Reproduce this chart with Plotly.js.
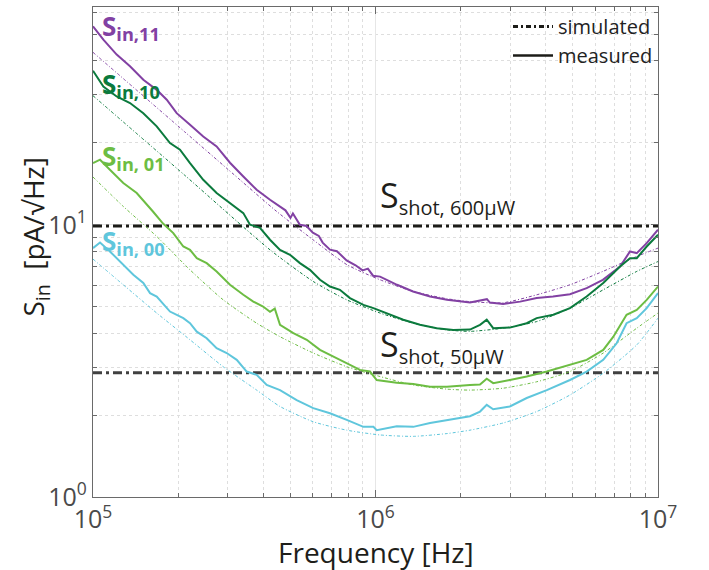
<!DOCTYPE html>
<html>
<head>
<meta charset="utf-8">
<script src="https://cdn.plot.ly/plotly-3.0.1.min.js"></script>
<style>html,body{margin:0;padding:0;background:#fff;}#chart{width:709px;height:570px;}</style>
</head>
<body>
<div id="chart"></div>
<script>
// ---- data ----
// measured S_in,11 (purple)
const f11m = [1.0e5,1.088e5,1.213e5,1.352e5,1.507e5,1.681e5,1.824e5,1.978e5,2.205e5,2.456e5,2.739e5,3.054e5,3.405e5,3.796e5,4.232e5,4.592e5,4.8e5,5.0e5,5.1e5,5.4e5,5.7e5,6.0e5,6.3e5,6.5e5,6.9e5,7.3e5,7.9e5,8.5e5,9.0e5,9.4e5,9.8e5,1.038e6,1.192e6,1.358e6,1.56e6,1.79e6,2.16e6,2.48e6,2.54e6,2.83e6,3.25e6,3.72e6,4.25e6,4.88e6,5.59e6,6.38e6,7.34e6,7.96e6,8.41e6,9.12e6,1e7];
const s11m = [53.6,47.9,42.2,38.2,34.1,31.3,28.8,25.7,23.3,21.1,19.4,16.9,15.05,13.45,12.36,11.68,11.3,10.6,11.0,10.0,9.9,9.35,9.1,8.6,8.1,8.0,7.4,7.1,6.8,6.9,6.5,6.45,6.02,5.69,5.45,5.30,5.18,5.33,5.18,5.12,5.22,5.38,5.45,5.56,5.85,6.28,7.03,7.98,7.87,8.56,9.59];
// measured S_in,10 (dark green)
const f10m = [1.0e5,1.088e5,1.213e5,1.352e5,1.507e5,1.681e5,1.873e5,2.032e5,2.205e5,2.456e5,2.739e5,3.054e5,3.405e5,3.596e5,3.90e5,4.232e5,4.592e5,4.98e5,5.40e5,5.86e5,6.36e5,6.90e5,7.48e5,8.12e5,9.06e5,9.83e5,1.095e6,1.254e6,1.437e6,1.647e6,1.886e6,2.16e6,2.344e6,2.476e6,2.61e6,2.99e6,3.43e6,3.72e6,4.26e6,4.88e6,5.59e6,6.40e6,7.34e6,7.96e6,8.41e6,9.12e6,1e7];
const s10m = [36.8,32.2,29.6,28.0,25.7,23.0,19.97,18.87,16.86,14.63,13.08,12.02,11.04,10.0,9.75,8.81,8.09,7.76,7.23,6.83,6.28,5.93,5.77,5.38,5.08,4.94,4.74,4.48,4.29,4.17,4.11,4.12,4.29,4.48,4.17,4.19,4.35,4.54,4.67,4.94,5.45,6.11,7.03,7.54,7.54,8.32,9.19];
// measured S_in,01 (light green)
const f01m = [1.0e5,1.059e5,1.148e5,1.28e5,1.428e5,1.55e5,1.63e5,1.77e5,1.924e5,2.088e5,2.205e5,2.33e5,2.526e5,2.739e5,3.054e5,3.405e5,3.693e5,4.0e5,4.232e5,4.40e5,4.592e5,5.12e5,5.71e5,6.36e5,7.09e5,7.91e5,8.81e5,9.56e5,1.01e6,1.189e6,1.36e6,1.56e6,1.79e6,2.16e6,2.344e6,2.476e6,2.61e6,2.99e6,3.43e6,4.04e6,4.88e6,5.59e6,6.40e6,6.95e6,7.74e6,8.41e6,9.12e6,1e7];
const s01m = [16.86,17.34,15.93,14.23,13.08,11.9,11.19,10.1,9.32,8.32,8.09,7.54,7.23,6.74,6.02,5.53,5.22,5.01,4.79,4.92,4.29,4.0,3.78,3.47,3.28,3.10,2.93,2.89,2.69,2.63,2.60,2.54,2.54,2.58,2.59,2.72,2.62,2.69,2.77,2.89,3.06,3.19,3.47,3.88,4.67,4.87,5.30,5.93];
// measured S_in,00 (cyan)
const f00m = [1.0e5,1.059e5,1.148e5,1.28e5,1.389e5,1.507e5,1.592e5,1.681e5,1.873e5,2.088e5,2.205e5,2.33e5,2.526e5,2.739e5,2.974e5,3.227e5,3.50e5,3.796e5,4.12e5,4.592e5,5.26e5,6.02e5,6.90e5,7.91e5,9.06e5,9.83e5,1.01e6,1.189e6,1.36e6,1.56e6,1.79e6,2.16e6,2.344e6,2.476e6,2.61e6,2.99e6,3.43e6,4.04e6,4.88e6,5.59e6,6.40e6,7.14e6,7.74e6,8.41e6,9.12e6,1e7];
const s00m = [8.21,8.61,7.98,7.13,6.55,6.11,5.61,5.45,4.80,4.54,4.35,4.05,3.83,3.52,3.38,3.19,2.89,2.81,2.58,2.47,2.27,2.12,2.03,1.92,1.81,1.81,1.76,1.82,1.81,1.87,1.92,1.98,2.06,2.18,2.10,2.15,2.31,2.47,2.69,2.89,3.19,3.67,4.35,4.54,4.94,5.61];

// simulated curves
const f11s = [1e5,2.117e5,3.0e5,4.47e5,6.01e5,7.93e5,1.038e6,1.358e6,1.79e6,2.16e6,2.83e6,3.72e6,4.88e6,6.38e6,8.41e6,1e7];
const s11s = [43.0,21.9,16.0,11.19,8.81,7.13,6.28,5.69,5.35,5.22,5.17,5.53,6.02,6.74,7.65,8.21];
const f10s = [1e5,2.117e5,4.232e5,6.02e5,7.91e5,1.038e6,1.36e6,1.79e6,2.16e6,2.83e6,3.72e6,4.88e6,6.40e6,8.41e6,1e7];
const s10s = [29.8,15.17,8.09,6.19,5.30,4.74,4.35,4.11,4.06,4.17,4.41,4.94,5.77,6.74,7.33];
const f01s = [1e5,1.28e5,1.681e5,2.205e5,2.89e5,3.796e5,4.592e5,6.02e5,7.91e5,1.038e6,1.36e6,1.79e6,2.16e6,2.83e6,3.72e6,4.88e6,6.40e6,8.41e6,1e7];
const s01s = [14.98,11.68,9.06,6.83,5.30,4.35,3.88,3.38,3.01,2.77,2.58,2.49,2.47,2.51,2.65,2.89,3.38,4.17,4.74];
const f00s = [1e5,1.28e5,1.681e5,2.205e5,2.89e5,3.796e5,4.592e5,6.02e5,7.91e5,1.038e6,1.36e6,1.79e6,2.16e6,2.83e6,3.72e6,4.88e6,6.40e6,8.41e6,1e7];
const s00s = [7.48,6.02,4.74,3.78,3.01,2.47,2.15,1.89,1.76,1.69,1.67,1.71,1.76,1.87,2.06,2.37,2.85,3.62,4.54];

// shot noise levels
const shotF = [1e5, 1e7];
const shot600 = [9.9, 9.9];
const shot50 = [2.86, 2.86];

// tick labels
const xTickVals = [1e5, 1e6, 1e7];
const xTickText = ['10<sup>5</sup>', '10<sup>6</sup>', '10<sup>7</sup>'];
const yTickVals = [1, 10];
const yTickText = ['10<sup>0</sup>', '10<sup>1</sup>'];
const xMinor = [2e5,3e5,4e5,5e5,6e5,7e5,8e5,9e5,2e6,3e6,4e6,5e6,6e6,7e6,8e6,9e6];
const yMinor = [2,3,4,5,6,7,8,9,20,30,40,50,60];

// legend-only entries (placed outside the visible range, draw nothing)
const legendDummyX = [1e3];
const legendDummyY = [1e-3];

// ---- styles ----
const C11 = '#8241a3', C10 = '#0b7a3d', C01 = '#6dbd43', C00 = '#5fc6dc';
const simDash = '3px,2px,1px,2px';
const FONT = 'Open Sans, Noto Sans, sans-serif';

function sim(x, y, c) {
  return {x: x, y: y, type: 'scatter', mode: 'lines', line: {color: c, width: 1, dash: simDash, shape: 'spline', smoothing: 0.6}, showlegend: false, hoverinfo: 'skip'};
}
function meas(x, y, c) {
  return {x: x, y: y, type: 'scatter', mode: 'lines', line: {color: c, width: 2}, showlegend: false, hoverinfo: 'skip'};
}

const traces = [
  {x: shotF, y: shot600, type: 'scatter', mode: 'lines', line: {color: '#1c1c18', width: 3, dash: '9px,4px,3px,4px'}, showlegend: false, hoverinfo: 'skip'},
  {x: shotF, y: shot50, type: 'scatter', mode: 'lines', line: {color: '#404040', width: 3, dash: '9px,4px,3px,4px'}, showlegend: false, hoverinfo: 'skip'},
  sim(f11s, s11s, C11), sim(f10s, s10s, C10), sim(f01s, s01s, C01), sim(f00s, s00s, C00),
  meas(f11m, s11m, C11), meas(f10m, s10m, C10), meas(f01m, s01m, C01), meas(f00m, s00m, C00),
  {x: legendDummyX, y: legendDummyY, type: 'scatter', mode: 'lines', name: 'simulated', line: {color: '#1c1c18', width: 3, dash: '5px,3px,2px,3px'}, showlegend: true, hoverinfo: 'skip'},
  {x: legendDummyX, y: legendDummyY, type: 'scatter', mode: 'lines', name: 'measured', line: {color: '#1c1c18', width: 2.5}, showlegend: true, hoverinfo: 'skip'}
];

const axisCommon = {
  type: 'log', showline: true, linecolor: '#6a6a6a', linewidth: 1.2, mirror: 'ticks',
  ticks: 'inside', ticklen: 7, tickcolor: '#6a6a6a', tickwidth: 1,
  showgrid: true, gridcolor: '#e6e6e6', gridwidth: 1, zeroline: false,
  tickfont: {family: FONT, size: 25, color: '#4a4a4a'}
};

const layout = {
  width: 709, height: 570,
  margin: {l: 93, r: 51, t: 7, b: 73},
  paper_bgcolor: '#ffffff', plot_bgcolor: '#ffffff',
  font: {family: FONT, color: '#222'},
  xaxis: Object.assign({}, axisCommon, {
    range: [5, 7], tickmode: 'array', tickvals: xTickVals, ticktext: xTickText,
    minor: {tickmode: 'array', tickvals: xMinor, ticks: 'inside', ticklen: 4, tickcolor: '#6a6a6a', showgrid: true, gridcolor: '#dedede', griddash: 'dot', gridwidth: 1}
  }),
  yaxis: Object.assign({}, axisCommon, {
    range: [0, 1.8], tickmode: 'array', tickvals: yTickVals, ticktext: yTickText,
    minor: {tickmode: 'array', tickvals: yMinor, ticks: 'inside', ticklen: 4, tickcolor: '#6a6a6a', showgrid: true, gridcolor: '#dedede', griddash: 'dot', gridwidth: 1}
  }),
  legend: {x: 1, xanchor: 'right', y: 1, yanchor: 'top', bgcolor: 'rgba(0,0,0,0)', font: {family: FONT, size: 20, color: '#222'}, tracegroupgap: 0, itemwidth: 40},
  annotations: [
    {xref: 'paper', yref: 'paper', x: 0.5, y: -0.112, xanchor: 'center', yanchor: 'middle', showarrow: false,
     text: 'Frequency [Hz]', font: {family: FONT, size: 28, color: '#1e1e1a'}},
    {xref: 'paper', yref: 'paper', x: -0.103, y: 0.531, xanchor: 'center', yanchor: 'middle', showarrow: false, textangle: -90,
     text: 'S<sub>in</sub>  [pA/√Hz]', font: {family: FONT, size: 28, color: '#1e1e1a'}},
    {xref: 'paper', yref: 'paper', x: 0.012, y: 0.959, xanchor: 'left', yanchor: 'middle', showarrow: false,
     text: '<b>S<sub>in,11</sub></b>', font: {family: FONT, size: 26, color: C11}},
    {xref: 'paper', yref: 'paper', x: 0.012, y: 0.841, xanchor: 'left', yanchor: 'middle', showarrow: false,
     text: '<b>S<sub>in,10</sub></b>', font: {family: FONT, size: 26, color: C10}},
    {xref: 'paper', yref: 'paper', x: 0.012, y: 0.694, xanchor: 'left', yanchor: 'middle', showarrow: false,
     text: '<b>S<sub>in, 01</sub></b>', font: {family: FONT, size: 26, color: C01}},
    {xref: 'paper', yref: 'paper', x: 0.012, y: 0.520, xanchor: 'left', yanchor: 'middle', showarrow: false,
     text: '<b>S<sub>in, 00</sub></b>', font: {family: FONT, size: 26, color: C00}},
    {xref: 'paper', yref: 'paper', x: 0.505, y: 0.560, xanchor: 'left', yanchor: 'bottom', showarrow: false,
     text: 'S<sub><span style="font-size:20px">shot, 600μW</span></sub>', font: {family: FONT, size: 34, color: '#1e1e1a'}},
    {xref: 'paper', yref: 'paper', x: 0.505, y: 0.255, xanchor: 'left', yanchor: 'bottom', showarrow: false,
     text: 'S<sub><span style="font-size:20px">shot, 50μW</span></sub>', font: {family: FONT, size: 34, color: '#1e1e1a'}}
  ]
};

Plotly.newPlot('chart', traces, layout, {displayModeBar: false, staticPlot: true});
</script>
</body>
</html>
